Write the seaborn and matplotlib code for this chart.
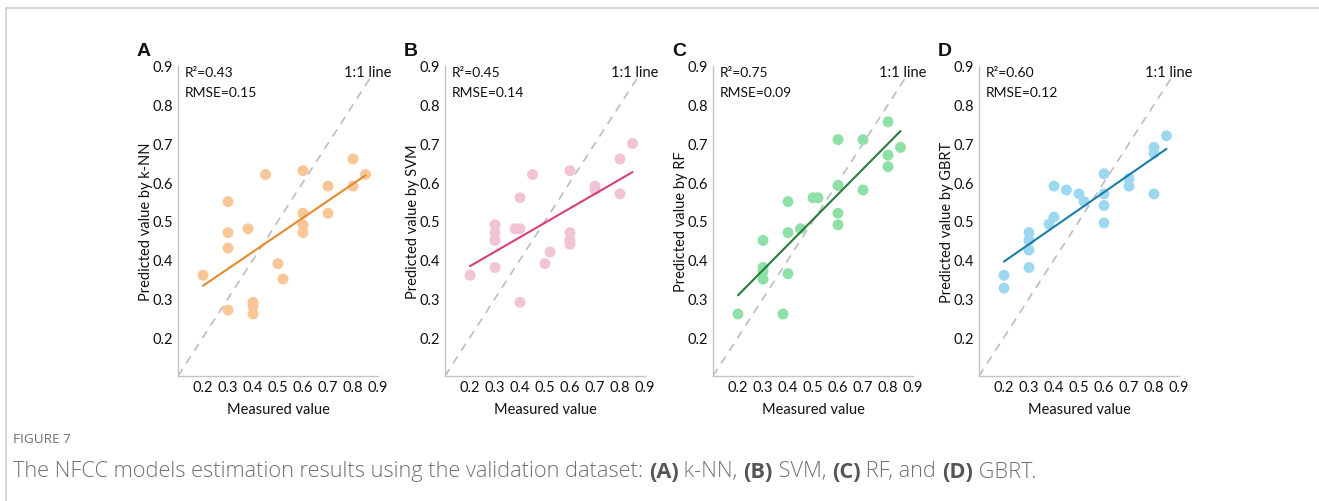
import numpy as np
import pandas as pd
import matplotlib
matplotlib.use("Agg")
import matplotlib.pyplot as plt
import seaborn as sns
from matplotlib.lines import Line2D

sns.set_theme(style="white")
plt.rcParams['font.family'] = ['Lato', 'DejaVu Sans']

# ---------------- data ----------------
knn_x = [0.2, 0.3, 0.3, 0.3, 0.3, 0.38, 0.45, 0.4, 0.4, 0.4, 0.5, 0.52, 0.6, 0.6, 0.6, 0.6, 0.7, 0.7, 0.8, 0.8, 0.85]
knn_y = [0.36, 0.55, 0.47, 0.43, 0.27, 0.48, 0.62, 0.29, 0.28, 0.26, 0.39, 0.35, 0.63, 0.52, 0.49, 0.47, 0.59, 0.52, 0.66, 0.59, 0.62]

svm_x = [0.2, 0.3, 0.3, 0.3, 0.3, 0.38, 0.4, 0.4, 0.4, 0.45, 0.5, 0.52, 0.6, 0.6, 0.6, 0.6, 0.7, 0.7, 0.8, 0.8, 0.85]
svm_y = [0.36, 0.49, 0.47, 0.45, 0.38, 0.48, 0.48, 0.56, 0.29, 0.62, 0.39, 0.42, 0.63, 0.47, 0.45, 0.44, 0.59, 0.58, 0.66, 0.57, 0.70]

rf_x = [0.2, 0.3, 0.3, 0.3, 0.3, 0.38, 0.4, 0.4, 0.4, 0.45, 0.5, 0.52, 0.6, 0.6, 0.6, 0.6, 0.7, 0.7, 0.8, 0.8, 0.8, 0.85]
rf_y = [0.26, 0.45, 0.38, 0.37, 0.35, 0.26, 0.55, 0.47, 0.364, 0.48, 0.56, 0.56, 0.71, 0.592, 0.52, 0.49, 0.71, 0.58, 0.756, 0.67, 0.64, 0.69]

gbrt_x = [0.2, 0.2, 0.3, 0.3, 0.3, 0.3, 0.38, 0.4, 0.4, 0.45, 0.5, 0.52, 0.6, 0.6, 0.6, 0.6, 0.7, 0.7, 0.8, 0.8, 0.8, 0.85]
gbrt_y = [0.36, 0.327, 0.47, 0.45, 0.425, 0.38, 0.492, 0.59, 0.51, 0.58, 0.57, 0.55, 0.622, 0.57, 0.54, 0.495, 0.61, 0.59, 0.69, 0.675, 0.57, 0.72]

panel_letters = ["A", "B", "C", "D"]
model_names = ["k-NN", "SVM", "RF", "GBRT"]
r2_values = ["0.43", "0.45", "0.75", "0.60"]
rmse_values = ["0.15", "0.14", "0.09", "0.12"]
tick_vals = [0.2, 0.3, 0.4, 0.5, 0.6, 0.7, 0.8, 0.9]
tick_labels = ["0.2", "0.3", "0.4", "0.5", "0.6", "0.7", "0.8", "0.9"]

xs = [knn_x, svm_x, rf_x, gbrt_x]
ys = [knn_y, svm_y, rf_y, gbrt_y]
point_colors = ["#F9C797", "#F2C2D5", "#8FE0A6", "#9DD8F0"]
line_colors = ["#E5892E", "#D93D7A", "#2A7A3A", "#1B7DA6"]

# ---------------- figure ----------------
W, H = 1319, 502
fig = plt.figure(figsize=(W / 100, H / 100), dpi=100)

# frame lines
fig.add_artist(Line2D([6 / W, 1], [1 - 9 / H, 1 - 9 / H], color="#D0D0D0", lw=1.2, transform=fig.transFigure))
fig.add_artist(Line2D([6 / W, 6 / W], [0, 1 - 9 / H], color="#D0D0D0", lw=1.2, transform=fig.transFigure))

lefts = [178, 445, 713, 979]
ax_w, ax_top, ax_bot = 200, 67, 377
spine_c = "#C4C4C4"

for i in range(4):
    ax = fig.add_axes([lefts[i] / W, 1 - ax_bot / H, ax_w / W, (ax_bot - ax_top) / H])
    df = pd.DataFrame({"x": xs[i], "y": ys[i]})
    ax.plot([0.1, 0.88], [0.1, 0.88], ls=(0, (5, 4)), color="#BDBDBD", lw=1.2, zorder=1)
    sns.regplot(data=df, x="x", y="y", ax=ax, ci=None, truncate=True,
                scatter_kws=dict(s=62, color=point_colors[i], edgecolor="none", alpha=1, zorder=2),
                line_kws=dict(color=line_colors[i], lw=1.5, zorder=3))
    ax.set_xlim(0.1, 0.9)
    ax.set_ylim(0.1, 0.9)
    ax.set_xticks(tick_vals)
    ax.set_xticklabels(tick_labels)
    ax.set_yticks(tick_vals)
    ax.set_yticklabels(tick_labels)
    for s in ["top", "right"]:
        ax.spines[s].set_visible(False)
    for s in ["left", "bottom"]:
        ax.spines[s].set_color(spine_c)
        ax.spines[s].set_linewidth(1.0)
    ax.tick_params(axis="y", length=2, width=0.8, color="#999999", labelsize=10.5, pad=1.5, labelcolor="#111111")
    ax.tick_params(axis="x", length=0, labelsize=10.5, pad=3, labelcolor="#111111")
    ax.set_xlabel("Measured value", fontsize=10.5, color="#111111", labelpad=6)
    ax.set_ylabel("Predicted value by " + model_names[i], fontsize=10.5, color="#111111", labelpad=0)
    ax.text(0.035, 0.98, "R²=" + r2_values[i], transform=ax.transAxes, fontsize=10, va="center", ha="left", color="#111111")
    ax.text(0.035, 0.915, "RMSE=" + rmse_values[i], transform=ax.transAxes, fontsize=10, va="center", ha="left", color="#111111")
    ax.text(1.065, 0.98, "1:1 line", transform=ax.transAxes, fontsize=10.5, va="center", ha="right", color="#111111")
    fig.text((lefts[i] - 41) / W, 1 - 51 / H, panel_letters[i], fontsize=14, fontweight="bold",
             family=["Liberation Sans", "DejaVu Sans"], va="center", ha="left", color="#111111")

# caption
fig.text(13 / W, 1 - 440 / H, "FIGURE 7", fontsize=9.7, color="#6E6E6E", va="center", ha="left",
         family=["Open Sans", "DejaVu Sans"])
parts = [("The NFCC models estimation results using the validation dataset: ", False),
         ("(A)", True), (" k-NN, ", False), ("(B)", True), (" SVM, ", False),
         ("(C)", True), (" RF, and ", False), ("(D)", True), (" GBRT.", False)]
fig.canvas.draw()
renderer = fig.canvas.get_renderer()
xpos = 13
for txt, bold in parts:
    t = fig.text(xpos / W, 1 - 472 / H, txt, fontsize=15.7, va="center", ha="left",
                 color="#555555" if bold else "#707070", fontweight="bold" if bold else "light",
                 family=["Open Sans", "DejaVu Sans"])
    bb = t.get_window_extent(renderer=renderer)
    xpos += bb.width

fig.savefig("out.png", dpi=100)
